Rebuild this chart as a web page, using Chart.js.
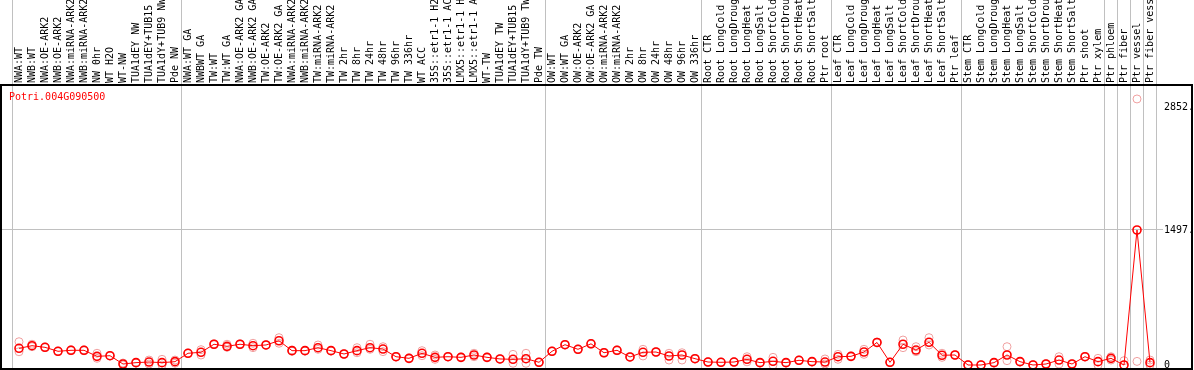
<!DOCTYPE html>
<html>
<head>
<meta charset="utf-8">
<script src="https://cdn.jsdelivr.net/npm/chart.js@4/dist/chart.umd.min.js"></script>
<style>
  body { margin: 0; background: #fff; }
  canvas { display: block; }
</style>
</head>
<body>
<canvas id="chart" width="1194" height="370"></canvas>
<script>
const geneName = 'Potri.004G090500';

const categories = [
  'NWA:WT', 'NWB:WT', 'NWA:OE-ARK2', 'NWB:OE-ARK2', 'NWA:miRNA-ARK2', 'NWB:miRNA-ARK2',
  'NW 0hr', 'WT H2O', 'WT-NW', 'TUA1dEY NW', 'TUA1dEY+TUB15', 'TUA1dY+TUB9 NW', 'Pde NW',
  'NWA:WT GA', 'NWBWT GA', 'TW:WT', 'TW:WT GA', 'NWA:OE-ARK2 GA', 'NWB:OE-ARK2 GA',
  'TW:OE-ARK2', 'TW:OE-ARK2 GA', 'NWA:miRNA-ARK2', 'NWB:miRNA-ARK2', 'TW:miRNA-ARK2',
  'TW:miRNA-ARK2', 'TW 2hr', 'TW 8hr', 'TW 24hr', 'TW 48hr', 'TW 96hr', 'TW 336hr',
  'WT ACC', '35S::etr1-1 H2', '35S::etr1-1 AC', 'LMX5::etr1-1 H', 'LMX5::etr1-1 A',
  'WT-TW', 'TUA1dEY TW', 'TUA1dEY+TUB15', 'TUA1dY+TUB9 TW', 'Pde TW',
  'OW:WT', 'OW:WT GA', 'OW:OE-ARK2', 'OW:OE-ARK2 GA', 'OW:miRNA-ARK2', 'OW:miRNA-ARK2',
  'OW 2hr', 'OW 8hr', 'OW 24hr', 'OW 48hr', 'OW 96hr', 'OW 336hr',
  'Root CTR', 'Root LongCold', 'Root LongDroug', 'Root LongHeat', 'Root LongSalt',
  'Root ShortCold', 'Root ShortDrou', 'Root ShortHeat', 'Root ShortSalt', 'Ptr root',
  'Leaf CTR', 'Leaf LongCold', 'Leaf LongDroug', 'Leaf LongHeat', 'Leaf LongSalt',
  'Leaf ShortCold', 'Leaf ShortDrou', 'Leaf ShortHeat', 'Leaf ShortSalt', 'Ptr leaf',
  'Stem CTR', 'Stem LongCold', 'Stem LongDroug', 'Stem LongHeat', 'Stem LongSalt',
  'Stem ShortCold', 'Stem ShortDrou', 'Stem ShortHeat', 'Stem ShortSalt', 'Ptr shoot',
  'Ptr xylem', 'Ptr phloem', 'Ptr fiber', 'Ptr vessel', 'Ptr fiber vess'
];

// mean expression per sample
const meanValues = [
  185, 214, 196, 152, 163, 163, 96, 103, 11, 26, 33, 26, 37,
  130, 141, 230, 207, 230, 214, 222, 269, 159, 159, 192, 159, 122, 159, 192, 177,
  92, 74, 130, 85, 92, 85, 111, 85, 67, 63, 70, 30,
  152, 225, 174, 235, 136, 163, 89, 141, 144, 100, 111, 70,
  33, 30, 33, 63, 26, 41, 26, 52, 37, 33,
  92, 96, 144, 250, 30, 230, 166, 252, 108, 111,
  0, 0, 26, 111, 37, 0, 11, 55, 11, 92, 37,
  74, 0, 1497, 26
];

// replicate values
const rep1 = [
  258, 230, 200, 155, 170, 168, 130, 105, 22, 30, 55, 63, 55,
  133, 111, 235, 230, 235, 241, 225, 303, 165, 163, 222, 163, 126, 192, 230, 203,
  96, 78, 159, 111, 95, 89, 130, 89, 70, 118, 130, 33,
  156, 229, 178, 240, 140, 168, 93, 174, 148, 130, 136, 74,
  37, 33, 37, 92, 30, 85, 30, 56, 41, 67,
  118, 100, 174, 255, 33, 277, 203, 303, 130, 115,
  4, 4, 30, 203, 41, 4, 15, 92, 15, 96, 74,
  92, 48, 2950, 55
];
const rep2 = [
  147, 203, 192, 148, 158, 158, 74, 100, 0, 22, 11, 0, 20,
  127, 170, 225, 196, 225, 192, 218, 241, 152, 155, 174, 155, 118, 136, 174, 148,
  88, 70, 103, 63, 89, 81, 92, 81, 63, 19, 19, 27,
  148, 221, 170, 230, 132, 158, 85, 100, 140, 55, 55, 67,
  30, 27, 30, 35, 22, 0, 22, 48, 33, 11,
  63, 92, 118, 246, 27, 192, 148, 222, 85, 107,
  0, 0, 22, 48, 33, 0, 7, 11, 7, 89, 0,
  55, 0, 40, 0
];

const tickValues = [0, 1497, 2852];
const tickLabels = ['0', '1497.', '2852.'];
// grid line n sits just before sample n (n = categories.length is the closing line)
const groupLines = [0, 13, 41, 53, 63, 73, 84, 85, 86, 87, 88];

const monoFont = { family: 'DejaVu Sans Mono', size: 10 };
const toPoints = arr => arr.map((v, i) => ({ x: i, y: v }));

const framePlugin = {
  id: 'frame',
  afterDraw(chart) {
    const { ctx, chartArea } = chart;
    ctx.save();
    ctx.strokeStyle = '#000';
    ctx.lineWidth = 2;
    ctx.strokeRect(chartArea.left, chartArea.top, chart.width - 2 - chartArea.left, chartArea.bottom - chartArea.top);
    ctx.fillStyle = '#ff0000';
    ctx.font = '10px "DejaVu Sans Mono"';
    ctx.textBaseline = 'middle';
    ctx.fillText(chart.data.datasets[0].label, chartArea.left + 8, chartArea.top + 12);
    ctx.restore();
  }
};

new Chart(document.getElementById('chart'), {
  type: 'line',
  data: {
    datasets: [
      {
        label: geneName,
        data: toPoints(meanValues),
        borderColor: '#ff0000',
        borderWidth: 1,
        pointRadius: 4,
        pointBorderWidth: 1.6,
        pointBorderColor: '#ff0000',
        pointBackgroundColor: 'rgba(0,0,0,0)',
        tension: 0
      },
      {
        label: 'rep 1',
        data: toPoints(rep1),
        showLine: false,
        pointRadius: 4,
        pointBorderWidth: 1,
        pointBorderColor: 'rgb(240,160,160)',
        pointBackgroundColor: 'rgba(0,0,0,0)'
      },
      {
        label: 'rep 2',
        data: toPoints(rep2),
        showLine: false,
        pointRadius: 4,
        pointBorderWidth: 1,
        pointBorderColor: 'rgb(240,160,160)',
        pointBackgroundColor: 'rgba(0,0,0,0)'
      }
    ]
  },
  options: {
    responsive: false,
    animation: false,
    layout: { autoPadding: false, padding: { left: 1, right: 2, top: 0, bottom: 1 } },
    plugins: {
      legend: { display: false },
      tooltip: { enabled: false }
    },
    scales: {
      x: {
        type: 'linear',
        position: 'top',
        min: -18 / 13,
        max: -18 / 13 + 1156 / 13,
        afterBuildTicks: s => { s.ticks = categories.map((_, i) => ({ value: i })); },
        afterFit: s => { s.height = 85; s.paddingLeft = 0; s.paddingRight = 0; },
        ticks: {
          autoSkip: false,
          minRotation: 90,
          maxRotation: 90,
          padding: -83,
          labelOffset: 12,
          color: '#000',
          font: monoFont,
          callback: v => categories[v]
        },
        grid: {
          offset: true,
          tickLength: 85,
          lineWidth: 1,
          color: ctx => (ctx.type !== 'tick' || groupLines.includes(ctx.index)) ? '#c0c0c0' : 'rgba(0,0,0,0)'
        },
        border: { display: false }
      },
      y: {
        position: 'right',
        min: -4 * 1497 / 135,
        max: 280 * 1497 / 135,
        afterBuildTicks: s => { s.ticks = tickValues.map(v => ({ value: v })); },
        afterFit: s => { s.width = 35; s.paddingTop = 0; s.paddingBottom = 0; },
        ticks: {
          padding: 1,
          crossAlign: 'near',
          color: '#000',
          font: monoFont,
          callback: (v, i) => tickLabels[i]
        },
        grid: {
          tickLength: 6,
          color: ctx => (ctx.tick && ctx.tick.value === 1497) ? '#c0c0c0' : 'rgba(0,0,0,0)'
        },
        border: { display: false }
      }
    }
  },
  plugins: [framePlugin]
});
</script>
</body>
</html>
